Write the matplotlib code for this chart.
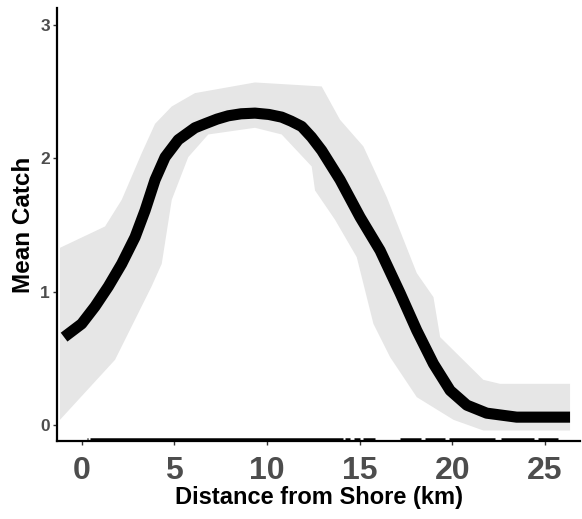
import numpy as np
import matplotlib.pyplot as plt

plt.rcParams['font.family'] = ['Liberation Sans', 'DejaVu Sans']

# fitted mean catch
dist = [-0.95, 0.0, 0.72, 1.44, 2.16, 2.88, 3.42, 3.96, 4.50, 5.21, 6.11,
        6.65, 7.3, 7.91, 8.6, 9.35, 10.1, 10.79, 11.3, 11.87, 12.4, 12.95,
        13.94, 15.02, 16.1, 17.18, 18.08, 18.98, 19.88, 20.78, 21.85, 23.47,
        25.1, 26.35]
catch = [0.66, 0.76, 0.89, 1.04, 1.21, 1.41, 1.61, 1.84, 2.01, 2.14, 2.23,
         2.26, 2.295, 2.32, 2.335, 2.34, 2.33, 2.31, 2.28, 2.24, 2.16, 2.06,
         1.84, 1.56, 1.31, 0.99, 0.71, 0.46, 0.26, 0.15, 0.09, 0.06,
         0.06, 0.06]

# confidence band, upper and lower edges
up_x = [-1.17, 1.26, 2.16, 3.24, 3.96, 4.86, 6.11, 9.35, 12.95, 13.94,
        15.2, 16.46, 18.08, 18.98, 19.34, 21.67, 22.57, 26.35]
up_y = [1.33, 1.49, 1.69, 2.04, 2.26, 2.39, 2.49, 2.57, 2.54, 2.29,
        2.09, 1.71, 1.14, 0.96, 0.66, 0.34, 0.31, 0.31]
lo_x = [-1.17, 1.80, 3.77, 4.32, 4.86, 5.75, 6.83, 9.35, 10.79, 12.41,
        12.59, 13.67, 14.84, 15.74, 16.64, 18.08, 20.06, 21.67, 26.35]
lo_y = [0.04, 0.49, 1.04, 1.21, 1.69, 2.01, 2.18, 2.23, 2.18, 1.94,
        1.76, 1.54, 1.26, 0.76, 0.51, 0.21, 0.04, -0.04, -0.04]

# rug of observed distances (drawn as dense spans)
rug_spans = [(0.3, 0.35), (0.45, 14.1), (14.2, 14.5), (14.7, 15.0), (15.2, 15.8),
             (17.2, 18.3), (18.5, 19.6), (19.8, 22.3), (22.6, 24.4), (24.6, 25.7)]

fig = plt.figure(figsize=(5.82, 5.19), dpi=100)
ax = fig.add_axes([0.098, 0.150, 0.899, 0.835])

band_x = np.array(up_x + lo_x[::-1])
band_y = np.array(up_y + lo_y[::-1])
ax.fill(band_x, band_y, color='#e6e6e6', lw=0)
ax.plot(dist, catch, color='black', lw=8, solid_capstyle='butt', solid_joinstyle='round')

for a, b in rug_spans:
    ax.plot([a, b], [0.004, 0.004], color='black', lw=1.8,
            transform=ax.get_xaxis_transform(), solid_capstyle='butt', clip_on=False)

ax.set_xlim(-1.33, 26.9)
ax.set_ylim(-0.12, 3.13)
ax.set_xticks([0, 5, 10, 15, 20, 25])
ax.set_yticks([0, 1, 2, 3])

for s in ['top', 'right']:
    ax.spines[s].set_visible(False)
for s in ['left', 'bottom']:
    ax.spines[s].set_linewidth(1.6)
    ax.spines[s].set_color('black')

ax.tick_params(axis='x', length=3, width=1, color='#333333', pad=8,
               labelsize=23, labelcolor='#4d4d4d')
ax.tick_params(axis='y', length=3, width=1, color='#333333', pad=2,
               labelsize=12.5, labelcolor='#4d4d4d')
for lab in ax.get_xticklabels() + ax.get_yticklabels():
    lab.set_fontweight('bold')

ax.set_xlabel('Distance from Shore (km)', fontsize=17, fontweight='bold', labelpad=0)
ax.set_ylabel('Mean Catch', fontsize=17.5, fontweight='bold', labelpad=4)

plt.savefig('out.png', dpi=100)
